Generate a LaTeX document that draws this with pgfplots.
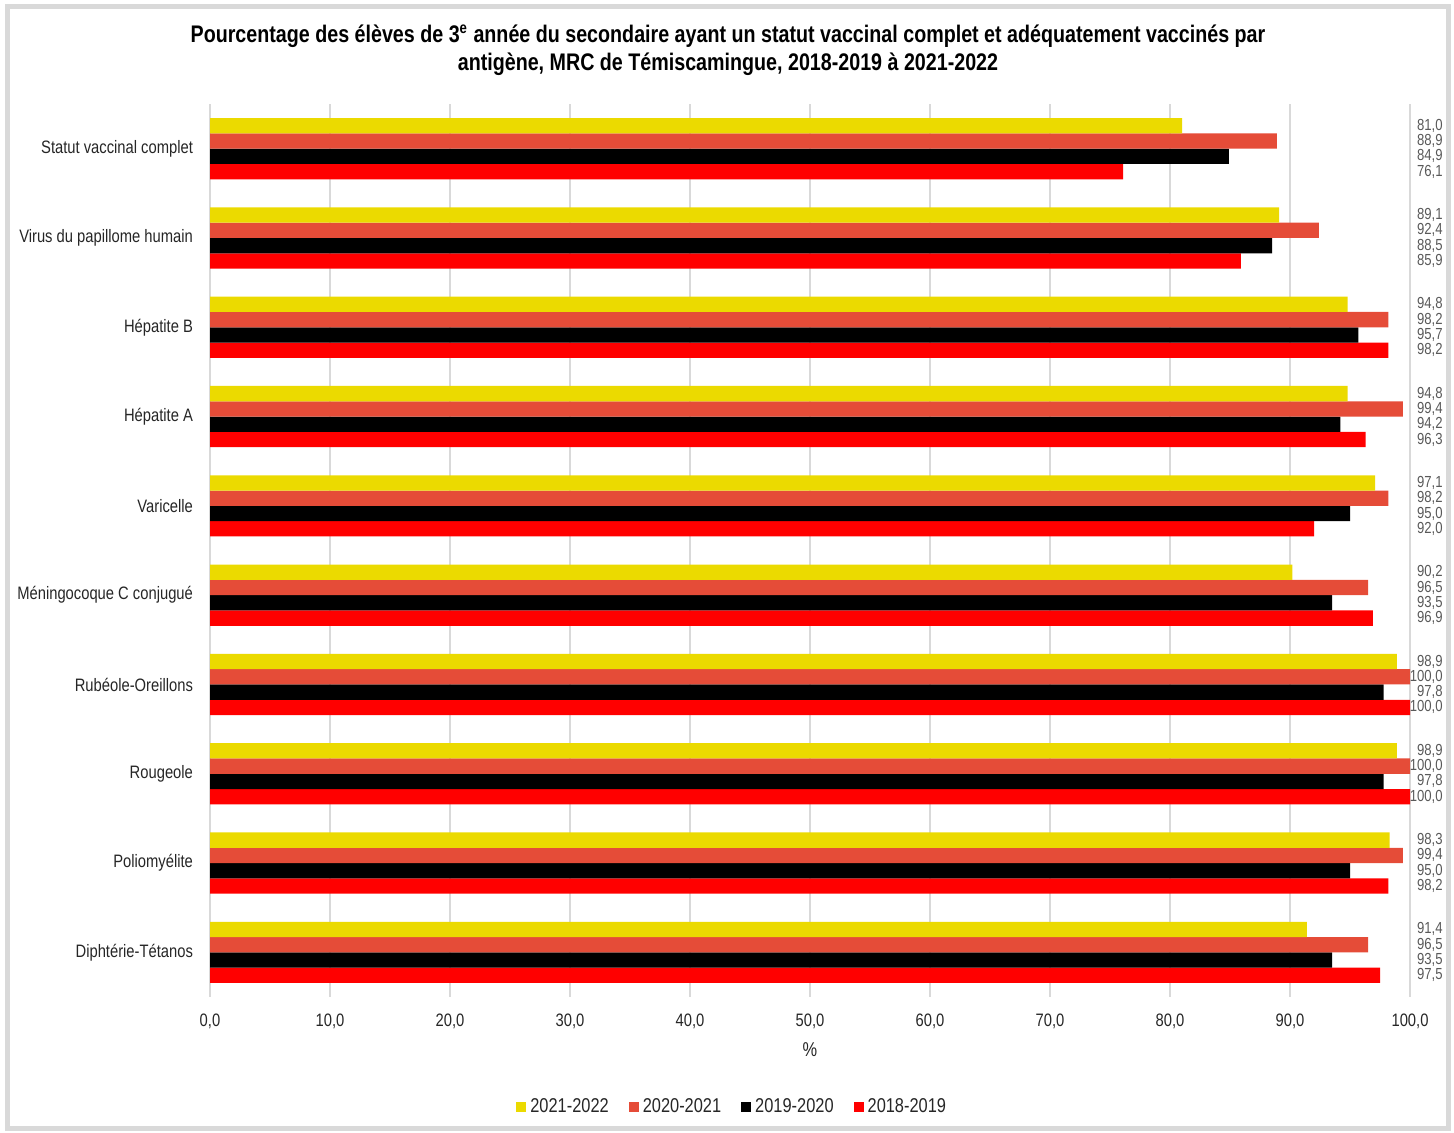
\documentclass[border=0pt]{standalone}
\usepackage{pgfplots}
\pgfplotsset{compat=1.18}
\usepackage{fontspec}
\setmainfont{Liberation Sans}[FakeStretch=0.82]
\definecolor{cYel}{RGB}{235,218,0}
\definecolor{cOra}{RGB}{229,76,56}
\definecolor{cRed}{RGB}{255,0,0}
\definecolor{cGrid}{RGB}{217,217,217}
\definecolor{cTxt}{RGB}{38,38,38}
\definecolor{cVal}{RGB}{89,89,89}
\tikzset{vlab/.style={anchor=east,xshift=16.5pt,inner sep=0pt,font=\fontsize{8}{8}\selectfont,text=cVal}}
\newcommand{\vl}[5]{%
  \node[vlab,yshift=11.475pt] at (axis cs:100,#1) {#2};
  \node[vlab,yshift=3.825pt] at (axis cs:100,#1) {#3};
  \node[vlab,yshift=-3.825pt] at (axis cs:100,#1) {#4};
  \node[vlab,yshift=-11.475pt] at (axis cs:100,#1) {#5};
}
\begin{document}
\begin{tikzpicture}
\begin{scope}[x=0.5pt,y=-0.5pt]
\useasboundingbox (0,0) rectangle (1454,1133);
\draw[cGrid,line width=2.75pt] (7.5,6.5) rectangle (1448.5,1128.5);
\node[font=\bfseries\fontsize{12}{14}\selectfont,align=center,text=black] at (728,50)
  {Pourcentage des élèves de 3\textsuperscript{e} année du secondaire ayant un statut vaccinal complet et adéquatement vaccinés par\\antigène, MRC de Témiscamingue, 2018-2019 à 2021-2022};
\node[font=\fontsize{10}{12}\selectfont,text=cTxt] at (810,1050) {\%};
\end{scope}
\begin{axis}[
  at={(105pt,-498.5pt)}, anchor=south west,
  scale only axis, width=600pt, height=446.5pt,
  xbar=0pt, bar width=7.65pt,
  xmin=0, xmax=100, ymin=-0.5, ymax=9.5, y dir=reverse,
  xtick={0,10,...,100},
  ytick={0,...,9},
  yticklabels={Statut vaccinal complet,Virus du papillome humain,Hépatite B,Hépatite A,Varicelle,Méningocoque C conjugué,Rubéole-Oreillons,Rougeole,Poliomyélite,Diphtérie-Tétanos},
  xmajorgrids, grid style={cGrid,line width=0.6pt},
  axis line style={draw=none},
  xtick pos=bottom, major tick length=0pt,
  xtick style={draw=none},
  ytick style={draw=none},
  /pgf/number format/fixed,
  /pgf/number format/fixed zerofill,
  /pgf/number format/precision=1,
  /pgf/number format/use comma,
  /pgf/number format/assume math mode=true,
  ticklabel style={font=\fontsize{9}{10}\selectfont,text=cTxt},
  yticklabel style={xshift=-5pt},
  xticklabel style={yshift=-5pt},
  clip=false,
  legend columns=4, reverse legend,
  legend style={at={(0.436,-0.1232)},anchor=center,draw=none,fill=none,font=\fontsize{10}{12}\selectfont,text=cTxt,
    /tikz/every even column/.append style={column sep=8pt}},
  legend image code/.code={\fill[#1,draw=none] (0pt,-2.5pt) rectangle (5pt,2.5pt);},
]
\addplot[fill=cRed,draw=none] coordinates {(76.1,0) (85.9,1) (98.2,2) (96.3,3) (92.0,4) (96.9,5) (100.0,6) (100.0,7) (98.2,8) (97.5,9)};
\addplot[fill=black,draw=none] coordinates {(84.9,0) (88.5,1) (95.7,2) (94.2,3) (95.0,4) (93.5,5) (97.8,6) (97.8,7) (95.0,8) (93.5,9)};
\addplot[fill=cOra,draw=none] coordinates {(88.9,0) (92.4,1) (98.2,2) (99.4,3) (98.2,4) (96.5,5) (100.0,6) (100.0,7) (99.4,8) (96.5,9)};
\addplot[fill=cYel,draw=none] coordinates {(81.0,0) (89.1,1) (94.8,2) (94.8,3) (97.1,4) (90.2,5) (98.9,6) (98.9,7) (98.3,8) (91.4,9)};
\legend{2018-2019,2019-2020,2020-2021,2021-2022}
\vl{0}{81,0}{88,9}{84,9}{76,1}
\vl{1}{89,1}{92,4}{88,5}{85,9}
\vl{2}{94,8}{98,2}{95,7}{98,2}
\vl{3}{94,8}{99,4}{94,2}{96,3}
\vl{4}{97,1}{98,2}{95,0}{92,0}
\vl{5}{90,2}{96,5}{93,5}{96,9}
\vl{6}{98,9}{100,0}{97,8}{100,0}
\vl{7}{98,9}{100,0}{97,8}{100,0}
\vl{8}{98,3}{99,4}{95,0}{98,2}
\vl{9}{91,4}{96,5}{93,5}{97,5}
\end{axis}
\end{tikzpicture}
\end{document}
